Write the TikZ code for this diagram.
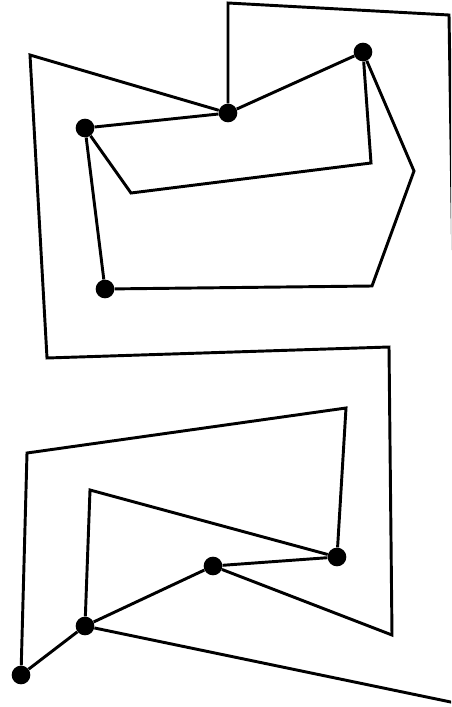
\documentclass[tikz,border=0pt]{standalone}
\usepackage{tikz}

\begin{document}
\begin{tikzpicture}[
    x=0.75pt, y=-0.75pt,
    dot/.style={circle, fill=black, inner sep=0pt, minimum size=14pt},
    edge/.style={draw=black, line width=2.2pt}
]
    \useasboundingbox (0,0) rectangle (451,707);
    \clip (0,0) rectangle (451,707);
    % upper part
    \node[dot] (ta) at (228,113) {};
    \node[dot] (tb) at (363,52)  {};
    \node[dot] (tc) at (85,128)  {};
    \node[dot] (td) at (105,289) {};
    \coordinate (tt) at (228,3);
    \coordinate (tr) at (449,15);
    \coordinate (offr) at (453.5,300);
    \coordinate (o1) at (30,55);
    \coordinate (o2) at (47,358);
    \coordinate (o3) at (389,347);
    \coordinate (o4) at (392,635);
    \coordinate (p1) at (131,193);
    \coordinate (p2) at (371,163);
    \coordinate (p3) at (414,171);
    \coordinate (p4) at (372,286);
    % lower part
    \node[dot] (ba) at (85,626)  {};
    \node[dot] (bb) at (213,566) {};
    \node[dot] (bc) at (337,557) {};
    \node[dot] (bd) at (21,675)  {};
    \coordinate (q1) at (346,408);
    \coordinate (q2) at (27,453);
    \coordinate (q3) at (90,490);
    \coordinate (offb) at (470,706);

    \draw[edge] (offr) -- (tr) -- (tt) -- (ta);
    \draw[edge] (tb) -- (ta) -- (tc);
    \draw[edge] (ta) -- (o1) -- (o2) -- (o3) -- (o4) -- (bb);
    \draw[edge] (tc) -- (p1) -- (p2) -- (tb);
    \draw[edge] (tb) -- (p3) -- (p4) -- (td) -- (tc);
    \draw[edge] (bb) -- (bc) -- (q1) -- (q2) -- (bd) -- (ba) -- (bb);
    \draw[edge] (ba) -- (q3) -- (bc);
    \draw[edge] (ba) -- (offb);
\end{tikzpicture}
\end{document}
